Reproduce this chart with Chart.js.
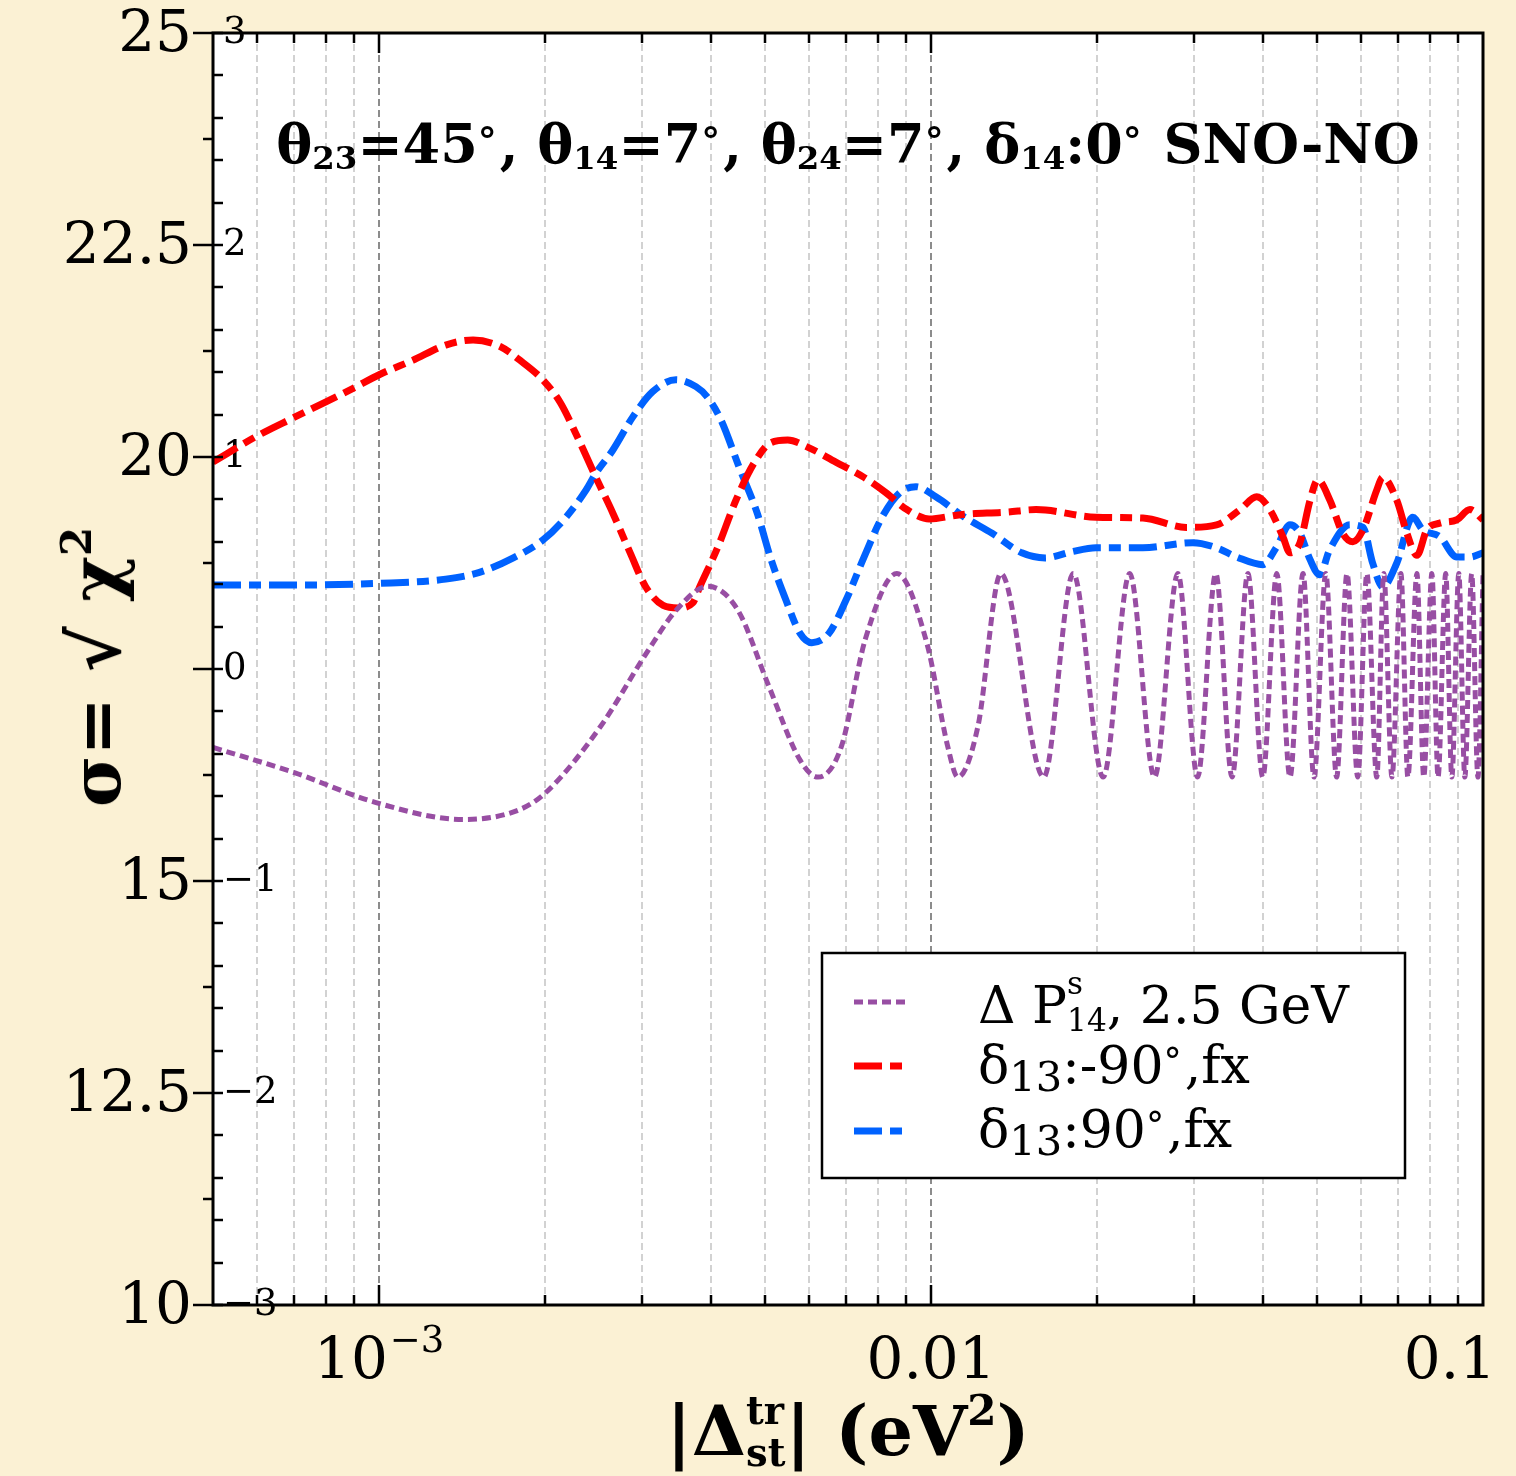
<!DOCTYPE html>
<html>
<head>
<meta charset="utf-8">
<script src="https://cdn.jsdelivr.net/npm/chart.js@4"></script>
<style>
html,body{margin:0;padding:0;background:#FBF1D4;}
#wrap{position:relative;width:1516px;height:1476px;overflow:hidden;background:#FBF1D4;}
#c{position:absolute;left:0;top:0;}
.t{position:absolute;font-family:"DejaVu Serif";color:#000;white-space:nowrap;line-height:1;}
.sb{font-size:0.6em;vertical-align:-0.17em;line-height:0;}
.dg{font-size:0.7em;vertical-align:0.25em;line-height:0;padding-right:0.08em;}
#title{left:213px;width:1270px;top:117px;text-align:center;font-weight:bold;font-size:54px;}
#xlabel{left:213px;width:1270px;top:1390px;text-align:center;font-weight:bold;font-size:70px;}
#ylabel{left:96px;top:667px;font-weight:bold;font-size:70px;transform:translate(-50%,-50%) rotate(-90deg);}
.stk{display:inline-block;font-size:0.55em;line-height:1.1em;vertical-align:-0.3em;text-align:left;}
.lg{left:978px;font-size:52px;}
.lsb{font-size:0.8em;vertical-align:-0.2em;line-height:0;}
</style>
</head>
<body>
<div id="wrap">
<canvas id="c" width="1516" height="1476"></canvas>
<div class="t" id="title">θ<span class="sb">23</span>=45<span class="dg">°</span>, θ<span class="sb">14</span>=7<span class="dg">°</span>, θ<span class="sb">24</span>=7<span class="dg">°</span>, δ<span class="sb">14</span>:0<span class="dg">°</span> SNO-NO</div>
<div class="t" id="xlabel">|Δ<span class="stk">tr<br>st</span>| (eV<span style="font-size:0.6em;vertical-align:0.7em;line-height:0">2</span>)</div>
<div class="t" id="ylabel">σ= √ χ<span style="font-size:0.6em;vertical-align:0.7em;line-height:0">2</span></div>
<div class="t lg" style="top:965px">Δ P<span class="stk" style="font-size:0.6em;line-height:1.2em;vertical-align:-0.28em">s<br>14</span>, 2.5 GeV</div>
<div class="t lg" style="top:1039px">δ<span class="lsb">13</span>:-90<span class="dg">°</span>,fx</div>
<div class="t lg" style="top:1103px">δ<span class="lsb">13</span>:90<span class="dg">°</span>,fx</div>
</div>
<script>
// ---------- data ----------
const purpleX = [0.000500, 0.000704, 0.000987, 0.00142, 0.00179, 0.00200, 0.00252, 0.00305, 0.00346, 0.00394,
  0.00446, 0.00508, 0.00579, 0.00624, 0.00687, 0.00760, 0.00867, 0.00983, 0.01073, 0.01118, 0.01216, 0.01338,
  0.0160, 0.0181, 0.0205, 0.0229, 0.0254, 0.0280, 0.0304, 0.0328, 0.0351, 0.0375, 0.0399, 0.0423, 0.0447, 0.0472,
  0.0494, 0.0519, 0.0543, 0.0567, 0.0593, 0.0616, 0.0642, 0.0661, 0.0684, 0.0710, 0.0731, 0.0759, 0.0781, 0.0808,
  0.0829, 0.0856, 0.0878, 0.0904, 0.0927, 0.0954, 0.0979, 0.1000];
const purpleY = [-0.37, -0.49, -0.63, -0.71, -0.665, -0.585, -0.27, 0.075, 0.28, 0.39,
  0.28, -0.08, -0.43, -0.51, -0.37, 0.14, 0.45, 0.12, -0.37, -0.51, -0.27, 0.45,
  -0.51, 0.45, -0.51, 0.45, -0.51, 0.45, -0.51, 0.45, -0.51, 0.45, -0.51, 0.45, -0.51, 0.45,
  -0.51, 0.45, -0.51, 0.45, -0.51, 0.45, -0.51, 0.45, -0.51, 0.45, -0.51, 0.45, -0.51, 0.45,
  -0.51, 0.45, -0.51, 0.45, -0.51, 0.45, -0.51, 0.45];

const redX = [0.000500, 0.000598, 0.000698, 0.000801, 0.000897, 0.00100, 0.00115, 0.00132, 0.00148, 0.00166,
  0.00180, 0.00198, 0.00213, 0.00227, 0.00247, 0.00265, 0.00285, 0.00304, 0.00327, 0.00348,
  0.00370, 0.00381, 0.00411, 0.00443, 0.00478, 0.00513, 0.00550, 0.00596, 0.00672, 0.00756,
  0.00828, 0.00904, 0.00992, 0.0113, 0.0137, 0.0155, 0.0199, 0.0242, 0.0290, 0.0329,
  0.0363, 0.0389, 0.0411, 0.0434, 0.0447, 0.0466, 0.0486, 0.0502, 0.0528, 0.0557,
  0.0581, 0.0606, 0.0642, 0.0658, 0.0698, 0.0728, 0.0759, 0.0791, 0.0835, 0.0897, 0.0947, 0.1000];
const redY = [19.94, 20.24, 20.46, 20.65, 20.81, 20.97, 21.14, 21.32, 21.38, 21.30,
  21.14, 20.91, 20.64, 20.28, 19.76, 19.34, 18.87, 18.47, 18.25, 18.22,
  18.28, 18.47, 18.94, 19.49, 19.93, 20.17, 20.20, 20.12, 19.94, 19.76,
  19.58, 19.38, 19.27, 19.32, 19.35, 19.38, 19.29, 19.28, 19.17, 19.20,
  19.38, 19.53, 19.38, 19.06, 18.87, 18.99, 19.49, 19.73, 19.49, 19.10,
  19.00, 19.14, 19.61, 19.76, 19.49, 19.10, 18.84, 19.14, 19.22, 19.26, 19.38, 19.26];

const blueX = [0.000500, 0.000707, 0.00100, 0.00132, 0.00152, 0.00175, 0.00198, 0.00218, 0.00237, 0.00247,
  0.00265, 0.00288, 0.00313, 0.00345, 0.00375, 0.00393, 0.00416, 0.00449, 0.00484, 0.00513,
  0.00546, 0.00579, 0.00608, 0.00653, 0.00701, 0.00756, 0.00815, 0.00878, 0.00939, 0.0102,
  0.0115, 0.0129, 0.0146, 0.0161, 0.0179, 0.0199, 0.0242, 0.0298, 0.0329, 0.0358,
  0.0399, 0.0423, 0.0447, 0.0466, 0.0486, 0.0506, 0.0527, 0.0574, 0.0606, 0.0631,
  0.0658, 0.0698, 0.0746, 0.0778, 0.0835, 0.0897, 0.0947, 0.1000];
const blueY = [18.49, 18.49, 18.51, 18.56, 18.64, 18.81, 19.02, 19.29, 19.61, 19.81,
  20.08, 20.47, 20.77, 20.91, 20.83, 20.71, 20.44, 19.88, 19.34, 18.79,
  18.31, 17.92, 17.81, 17.92, 18.31, 18.82, 19.29, 19.58, 19.65, 19.53,
  19.29, 19.10, 18.87, 18.81, 18.88, 18.93, 18.93, 18.99, 18.93, 18.82,
  18.73, 18.94, 19.20, 19.10, 18.79, 18.61, 18.90, 19.20, 19.17, 18.75,
  18.47, 18.75, 19.29, 19.14, 19.06, 18.82, 18.82, 18.87];

const seriesLabels = ['Δ P14s, 2.5 GeV', 'δ13:-90°,fx', 'δ13:90°,fx'];
const xTickValues = [0.001, 0.01, 0.1];
const xTickBase = ['10', '0.01', '0.1'];
const xTickSup = ['−3', '', ''];
const yHiddenTick = 17.5;

// ---------- chart ----------
const zip = (xs, ys) => xs.map((x, i) => ({x: x, y: ys[i]}));
const COL = {purple: '#984EA3', red: '#FF0000', blue: '#0062FF'};
const DASH = {purple: [9, 5], red: [28, 8, 12, 8], blue: [28, 8, 12, 8]};

const decor = {
  id: 'decor',
  beforeDraw(chart) {
    const ctx = chart.ctx, a = chart.chartArea, xs = chart.scales.x;
    ctx.save();
    ctx.fillStyle = '#FFFFFF';
    ctx.fillRect(a.left, a.top, a.right - a.left, a.bottom - a.top);
    ctx.lineWidth = 2;
    ctx.setLineDash([7, 4]);
    for (let e = -4; e <= -1; e++) {
      for (let m = 1; m <= 9; m++) {
        const v = m * Math.pow(10, e);
        if (v <= xs.min * 1.0001 || v >= xs.max * 0.9999) continue;
        const px = Math.round(xs.getPixelForValue(v));
        ctx.strokeStyle = m === 1 ? '#8C8C8C' : '#D2D2D2';
        ctx.beginPath(); ctx.moveTo(px, a.top); ctx.lineTo(px, a.bottom); ctx.stroke();
      }
    }
    ctx.restore();
  },
  afterDatasetsDraw(chart) {
    const ctx = chart.ctx, a = chart.chartArea, xs = chart.scales.x, ys = chart.scales.y, y2 = chart.scales.y2;
    ctx.save();
    ctx.strokeStyle = '#000'; ctx.setLineDash([]);
    ctx.lineWidth = 2.5;
    for (let e = -4; e <= -1; e++) {
      for (let m = 1; m <= 9; m++) {
        const v = m * Math.pow(10, e);
        if (v <= xs.min * 1.0001 || v >= xs.max * 0.9999) continue;
        const px = Math.round(xs.getPixelForValue(v));
        const L = m === 1 ? 20 : 10;
        ctx.beginPath();
        ctx.moveTo(px, a.bottom); ctx.lineTo(px, a.bottom - L);
        ctx.moveTo(px, a.top); ctx.lineTo(px, a.top + L);
        ctx.stroke();
      }
    }
    for (let v = ys.min; v <= ys.max + 1e-9; v += 0.5) {
      const py = Math.round(ys.getPixelForValue(v));
      ctx.beginPath(); ctx.moveTo(a.left, py); ctx.lineTo(a.left + 10, py); ctx.stroke();
    }
    for (let v = ys.min; v <= ys.max + 1e-9; v += 2.5) {
      const py = Math.round(ys.getPixelForValue(v));
      ctx.beginPath(); ctx.moveTo(a.left - 20, py); ctx.lineTo(a.left, py); ctx.stroke();
    }
    for (let v = y2.min + 0.5; v < y2.max; v += 1) {
      const py = Math.round(y2.getPixelForValue(v));
      ctx.beginPath(); ctx.moveTo(a.left - 10, py); ctx.lineTo(a.left, py); ctx.stroke();
    }
    ctx.lineWidth = 3;
    ctx.strokeRect(a.left, a.top, a.right - a.left, a.bottom - a.top);
    // legend box
    ctx.fillStyle = '#FFFFFF';
    ctx.fillRect(822, 953, 583, 225);
    ctx.lineWidth = 2.5;
    ctx.strokeStyle = '#000';
    ctx.strokeRect(822, 953, 583, 225);
    const rows = [['purple', 1002, 5], ['red', 1066, 7], ['blue', 1131, 7]];
    rows.forEach(r => {
      ctx.strokeStyle = COL[r[0]]; ctx.lineWidth = r[2]; ctx.setLineDash(DASH[r[0]]);
      ctx.beginPath(); ctx.moveTo(854, r[1]); ctx.lineTo(908, r[1]); ctx.stroke();
    });
    ctx.restore();
  },
  afterDraw(chart) {
    const ctx = chart.ctx, a = chart.chartArea, xs = chart.scales.x, W = chart.width;
    ctx.save();
    ctx.fillStyle = '#000'; ctx.textBaseline = 'alphabetic'; ctx.textAlign = 'left';
    const base = a.bottom + 73;
    xTickValues.forEach((v, i) => {
      const px = xs.getPixelForValue(v);
      ctx.font = '58px "DejaVu Serif"';
      const wb = ctx.measureText(xTickBase[i]).width;
      ctx.font = '37px "DejaVu Serif"';
      const ws = xTickSup[i] ? ctx.measureText(xTickSup[i]).width + 2 : 0;
      let left = px - (wb + ws) / 2;
      if (left + wb + ws > W - 20) left = W - 20 - wb - ws;
      ctx.font = '58px "DejaVu Serif"';
      ctx.fillText(xTickBase[i], left, base);
      if (xTickSup[i]) {
        ctx.font = '37px "DejaVu Serif"';
        ctx.fillText(xTickSup[i], left + wb + 2, base - 26);
      }
    });
    ctx.restore();
  }
};

Chart.defaults.font.family = '"DejaVu Serif"';
new Chart(document.getElementById('c').getContext('2d'), {
  type: 'line',
  data: {
    datasets: [
      {label: seriesLabels[0], data: zip(purpleX, purpleY), yAxisID: 'y2', borderColor: COL.purple, borderWidth: 5,
       borderDash: DASH.purple, pointRadius: 0, cubicInterpolationMode: 'monotone', fill: false},
      {label: seriesLabels[1], data: zip(redX, redY), yAxisID: 'y', borderColor: COL.red, borderWidth: 7,
       borderDash: DASH.red, pointRadius: 0, cubicInterpolationMode: 'monotone', fill: false},
      {label: seriesLabels[2], data: zip(blueX, blueY), yAxisID: 'y', borderColor: COL.blue, borderWidth: 7,
       borderDash: DASH.blue, pointRadius: 0, cubicInterpolationMode: 'monotone', fill: false}
    ]
  },
  options: {
    responsive: false, animation: false, devicePixelRatio: 1,
    layout: {padding: {top: 33, right: 33, left: 0, bottom: 0}},
    plugins: {legend: {display: false}, title: {display: false}, tooltip: {enabled: false}},
    events: [],
    scales: {
      x: {
        type: 'logarithmic', position: 'bottom', min: 5e-4, max: 0.1, bounds: 'data',
        grid: {display: false, drawTicks: false}, border: {display: false},
        ticks: {display: false},
        afterBuildTicks(s) { s.ticks = xTickValues.map(v => ({value: v})); },
        afterFit(s) { s.height = 171; s.paddingLeft = 0; s.paddingRight = 0; }
      },
      y: {
        type: 'linear', position: 'left', weight: 10, min: 10, max: 25,
        grid: {display: false, drawTicks: false}, border: {display: false},
        ticks: {stepSize: 2.5, color: '#000', padding: 21, labelOffset: 3, font: {size: 58, family: '"DejaVu Serif"'},
                callback: v => (Math.abs(v - yHiddenTick) < 1e-9 ? '' : String(v))},
        afterFit(s) { s.width = 213; s.paddingTop = 0; s.paddingBottom = 0; }
      },
      y2: {
        type: 'linear', position: 'left', weight: 0, min: -3, max: 3,
        grid: {display: false, drawTicks: false}, border: {display: false},
        ticks: {stepSize: 1, mirror: true, padding: 10, color: '#000', font: {size: 37, family: '"DejaVu Serif"'},
                callback: v => (v < 0 ? '−' + Math.abs(v) : String(v))},
        afterFit(s) { s.width = 0; s.paddingTop = 0; s.paddingBottom = 0; }
      }
    }
  },
  plugins: [decor]
});
</script>
</body>
</html>
